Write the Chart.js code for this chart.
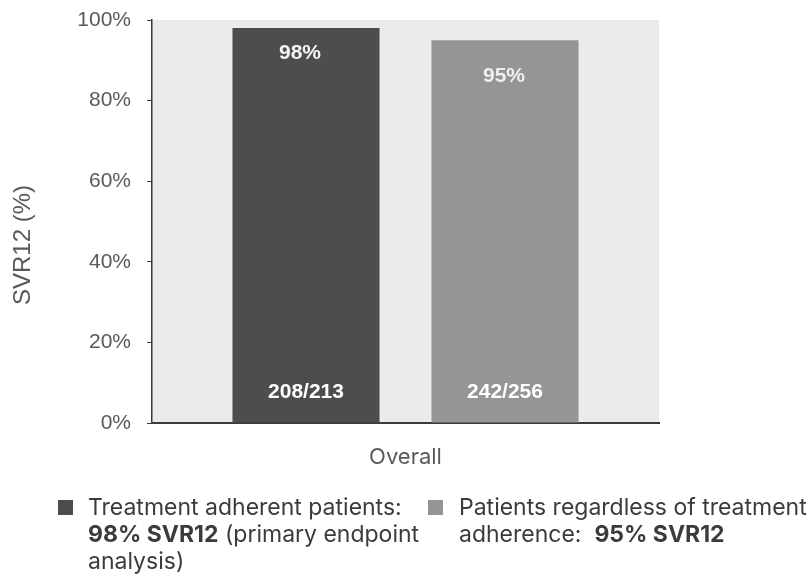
<!DOCTYPE html>
<html>
<head>
<meta charset="utf-8">
<script src="https://cdn.jsdelivr.net/npm/chart.js@4.4.0/dist/chart.umd.min.js"></script>
<style>
html, body { margin: 0; padding: 0; background: #fff; }
canvas { display: block; }
</style>
</head>
<body>
<canvas id="svr" width="811" height="579"></canvas>
<script>
var categories = ['Overall'];
var seriesNames = ['Treatment adherent patients', 'Patients regardless of treatment adherence'];
var adherentSvr = [98];
var overallSvr = [95];
var adherentCounts = ['208/213'];
var overallCounts = ['242/256'];
var yTicks = [0, 20, 40, 60, 80, 100];
var yTitle = 'SVR12 (%)';

// legend text: per series a list of lines, each line a list of [text, bold]
var legendLines = [
    [
        [['Treatment adherent patients:', false]],
        [['98% SVR12', true], [' (primary endpoint', false]],
        [['analysis)', false]]
    ],
    [
        [['Patients regardless of treatment', false]],
        [['adherence:  ', false], ['95% SVR12', true]]
    ]
];

var textFont = 'Inter, "Noto Sans", sans-serif';
var axisFont = '"Liberation Sans", Arial, sans-serif';

// grey panel behind the bars, plus the rotated y title
var plotBackground = {
    id: 'plotBackground',
    beforeDraw: function(chart) {
        var a = chart.chartArea;
        var c = chart.ctx;
        c.save();
        c.fillStyle = '#ebebeb';
        c.fillRect(a.left, a.top, a.right - a.left, a.bottom - a.top);
        c.translate(23, 245);
        c.rotate(-Math.PI / 2);
        c.textAlign = 'center';
        c.textBaseline = 'middle';
        c.fillStyle = '#595959';
        c.font = '24px ' + axisFont;
        c.fillText(yTitle, 0, 0);
        c.restore();
    }
};

// percentage near the top of each bar, n/N near the bottom
var barLabels = {
    id: 'barLabels',
    afterDatasetsDraw: function(chart) {
        var c = chart.ctx;
        var zero = chart.scales.y.getPixelForValue(0);
        var topGap = [25, 36];
        var shift = [-6, -1];
        c.save();
        c.textAlign = 'center';
        c.textBaseline = 'middle';
        c.font = 'bold 21px ' + axisFont;
        chart.data.datasets.forEach(function(ds, i) {
            var meta = chart.getDatasetMeta(i);
            meta.data.forEach(function(bar, j) {
                c.fillStyle = ds.pctColor;
                c.fillText(ds.data[j] + '%', bar.x + shift[i], bar.y + topGap[i]);
                c.fillStyle = '#ffffff';
                c.fillText(ds.counts[j], bar.x, zero - 31);
            });
        });
        c.restore();
    }
};

// two-column legend with wrapped, partly bold text
var richLegend = {
    id: 'richLegend',
    afterDraw: function(chart) {
        var c = chart.ctx;
        var boxX = [58, 428];
        var textX = [88, 459];
        var lineY = [508, 535, 562];
        c.save();
        c.textBaseline = 'middle';
        c.textAlign = 'left';
        chart.data.datasets.forEach(function(ds, i) {
            c.fillStyle = ds.backgroundColor;
            c.fillRect(boxX[i], lineY[0] - 8, 15, 15);
            legendLines[i].forEach(function(line, k) {
                var x = textX[i];
                line.forEach(function(seg) {
                    c.font = (seg[1] ? 'bold ' : '') + '23px ' + textFont;
                    c.fillStyle = '#3b3b3b';
                    c.fillText(seg[0], x, lineY[k]);
                    x += c.measureText(seg[0]).width;
                });
            });
        });
        c.restore();
    }
};

var ctx = document.getElementById('svr').getContext('2d');
var svrChart = new Chart(ctx, {
    type: 'bar',
    data: {
        labels: categories,
        datasets: [
            {
                label: seriesNames[0],
                data: adherentSvr,
                counts: adherentCounts,
                backgroundColor: '#4d4d4d',
                pctColor: '#f5f5f5'
            },
            {
                label: seriesNames[1],
                data: overallSvr,
                counts: overallCounts,
                backgroundColor: '#959595',
                pctColor: '#efefef'
            }
        ]
    },
    options: {
        responsive: false,
        animation: false,
        categoryPercentage: 0.785,
        barPercentage: 0.739,
        layout: { padding: { left: 0, top: 20, right: 152, bottom: 0 } },
        plugins: {
            legend: { display: false },
            tooltip: { enabled: false }
        },
        scales: {
            x: {
                afterFit: function(scale) { scale.height = 156; },
                grid: { display: false },
                border: { display: true, color: '#3a3a3a', width: 2 },
                ticks: {
                    padding: 13,
                    color: '#595959',
                    font: { family: textFont, size: 22 }
                }
            },
            y: {
                min: 0,
                max: 100,
                afterFit: function(scale) {
                    scale.width = 152;
                    scale.paddingTop = 0;
                },
                afterBuildTicks: function(scale) {
                    scale.ticks = yTicks.map(function(v) { return { value: v }; });
                },
                grid: {
                    drawOnChartArea: false,
                    drawTicks: true,
                    tickLength: 5,
                    color: '#3a3a3a'
                },
                border: { display: true, color: '#3a3a3a', width: 1.5 },
                ticks: {
                    padding: 16,
                    color: '#595959',
                    font: { family: axisFont, size: 21 },
                    callback: function(v) { return v + '%'; }
                }
            }
        }
    },
    plugins: [plotBackground, barLabels, richLegend]
});
</script>
</body>
</html>
